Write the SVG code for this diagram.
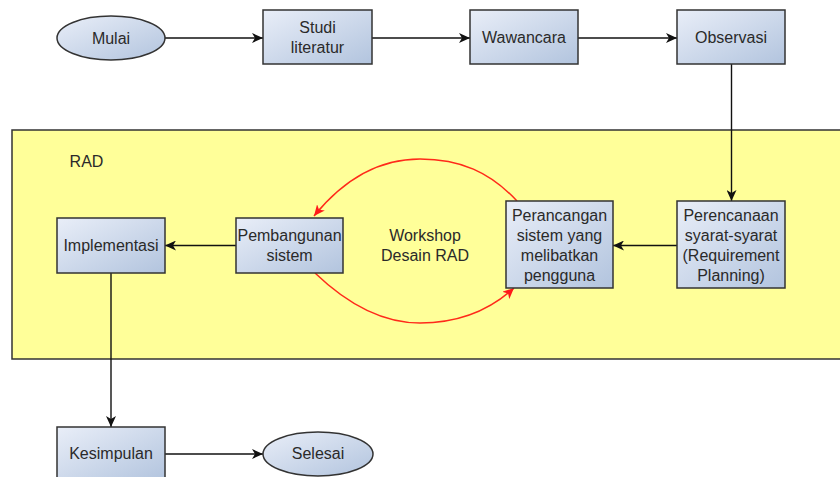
<svg xmlns="http://www.w3.org/2000/svg" width="840" height="477" viewBox="0 0 840 477">
<defs>
<linearGradient id="g" x1="0" y1="0" x2="1" y2="1">
<stop offset="0" stop-color="#e9eef8"/>
<stop offset="1" stop-color="#b2c4de"/>
</linearGradient>
<marker id="ab" markerUnits="userSpaceOnUse" markerWidth="12" markerHeight="10" refX="11" refY="5" orient="auto">
<path d="M0,0 L11,5 L0,10 L3,5 z" fill="#111"/>
</marker>
<marker id="ar" markerUnits="userSpaceOnUse" markerWidth="12" markerHeight="10" refX="11" refY="5" orient="auto">
<path d="M0,0 L11,5 L0,10 L3,5 z" fill="#ff1a1a"/>
</marker>
<style>
.n{fill:url(#g);stroke:#333;stroke-width:1.5}
.t{font-family:"Liberation Sans",Arial,sans-serif;font-size:16px;fill:#2a2a2a;text-anchor:middle}
.c{fill:none;stroke:#111;stroke-width:1.4}
.r{fill:none;stroke:#ff2a1a;stroke-width:1.5}
</style>
</defs>
<rect width="840" height="477" fill="#fff"/>
<g id="rad">
<rect x="12" y="130" width="840" height="229" fill="#ffff99" stroke="#333" stroke-width="1.5"/>
<text class="t" x="86.5" y="166.5">RAD</text>
</g>
<g id="connectors">
<line class="c" x1="165" y1="38" x2="263" y2="38" marker-end="url(#ab)"/>
<line class="c" x1="372" y1="38" x2="470" y2="38" marker-end="url(#ab)"/>
<line class="c" x1="578" y1="38" x2="677" y2="38" marker-end="url(#ab)"/>
<line class="c" x1="731.5" y1="64" x2="731.5" y2="201" marker-end="url(#ab)"/>
<line class="c" x1="677" y1="245.5" x2="613" y2="245.5" marker-end="url(#ab)"/>
<line class="c" x1="236" y1="245.5" x2="165" y2="245.5" marker-end="url(#ab)"/>
<line class="c" x1="111" y1="273" x2="111" y2="427" marker-end="url(#ab)"/>
<line class="c" x1="165" y1="454" x2="263" y2="454" marker-end="url(#ab)"/>
<path class="r" d="M517,201 C490,172 460,159 420,159 C375,159 340,184 314,216" marker-end="url(#ar)"/>
<path class="r" d="M315,273 C340,297 375,323 420,323 C460,323 490,310 514,288" marker-end="url(#ar)"/>
</g>
<g id="mulai">
<ellipse class="n" cx="111" cy="38" rx="54" ry="22"/>
<text class="t" x="111" y="43.5">Mulai</text>
</g>
<g id="studi">
<rect class="n" x="263" y="10" width="109" height="54"/>
<text class="t" x="317.5" y="32.5">Studi</text>
<text class="t" x="317.5" y="52.5">literatur</text>
</g>
<g id="wawancara">
<rect class="n" x="470" y="10" width="108" height="54"/>
<text class="t" x="524" y="42.5">Wawancara</text>
</g>
<g id="observasi">
<rect class="n" x="677" y="10" width="108" height="54"/>
<text class="t" x="731" y="42.5">Observasi</text>
</g>
<g id="perencanaan">
<rect class="n" x="677" y="201" width="108" height="87"/>
<text class="t" x="731" y="221">Perencanaan</text>
<text class="t" x="731" y="241">syarat-syarat</text>
<text class="t" x="731" y="261">(Requirement</text>
<text class="t" x="731" y="281">Planning)</text>
</g>
<g id="perancangan">
<rect class="n" x="506" y="201" width="107" height="87"/>
<text class="t" x="559.5" y="221">Perancangan</text>
<text class="t" x="559.5" y="241">sistem yang</text>
<text class="t" x="559.5" y="261">melibatkan</text>
<text class="t" x="559.5" y="281">pengguna</text>
</g>
<g id="workshop">
<text class="t" x="425" y="240.5">Workshop</text>
<text class="t" x="425" y="260.5">Desain RAD</text>
</g>
<g id="pembangunan">
<rect class="n" x="236" y="218" width="107" height="55"/>
<text class="t" x="289.5" y="241">Pembangunan</text>
<text class="t" x="289.5" y="261">sistem</text>
</g>
<g id="implementasi">
<rect class="n" x="57" y="218" width="108" height="55"/>
<text class="t" x="111" y="251">Implementasi</text>
</g>
<g id="kesimpulan">
<rect class="n" x="57" y="427" width="108" height="54"/>
<text class="t" x="111" y="459">Kesimpulan</text>
</g>
<g id="selesai">
<ellipse class="n" cx="318" cy="454" rx="55" ry="22"/>
<text class="t" x="318" y="459">Selesai</text>
</g>
</svg>
